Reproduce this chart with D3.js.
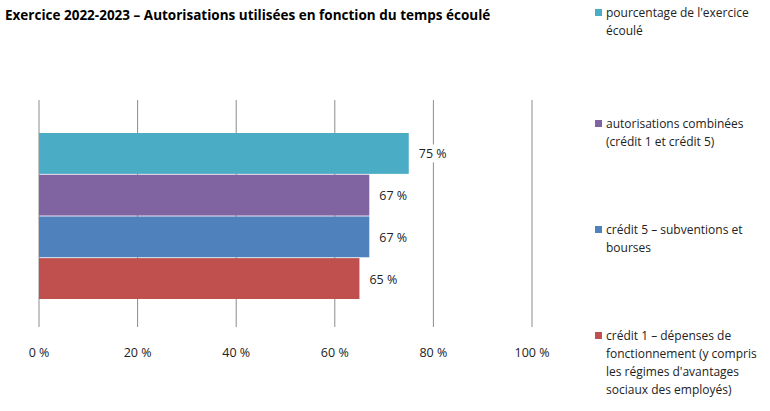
<!DOCTYPE html>
<html><head><meta charset="utf-8">
<script src="https://cdn.jsdelivr.net/npm/d3@7"></script>
<style>body{margin:0;background:#fff}text{font-family:"Open Sans","Liberation Sans",sans-serif}</style>
</head><body><svg id="c" width="770" height="411"></svg>
<script>
const series = ["pourcentage de l'exercice écoulé", "autorisations combinées (crédit 1 et crédit 5)", "crédit 5 – subventions et bourses", "crédit 1 – dépenses de fonctionnement (y compris les régimes d'avantages sociaux des employés)"];
const values = [75, 67, 67, 65];
const colors = ["#4bacc6", "#8064a2", "#4f81bd", "#c0504d"];
const ticks = [0, 20, 40, 60, 80, 100];
const legendLines = [["pourcentage de l'exercice", "écoulé"], ["autorisations combinées", "(crédit 1 et crédit 5)"], ["crédit 5 – subventions et", "bourses"], ["crédit 1 – dépenses de", "fonctionnement (y compris", "les régimes d'avantages", "sociaux des employés)"]];
const legendY = [15, 126, 232, 338];

const svg = d3.select("#c");
const x = d3.scaleLinear().domain([0, 100]).range([39, 532]);
const y = d3.scaleBand().domain(series).range([133, 299]).paddingInner(0.02);

svg.append("text").attr("x", 5).attr("y", 20).attr("font-size", 13.5).attr("font-weight", "bold")
  .text("Exercice 2022-2023 – Autorisations utilisées en fonction du temps écoulé");

svg.selectAll(".grid").data(ticks).join("line")
  .attr("x1", d => x(d)).attr("x2", d => x(d)).attr("y1", 100).attr("y2", 327)
  .attr("stroke", "#8c8c8c").attr("stroke-width", 1);

svg.selectAll(".tl").data(ticks).join("text")
  .attr("x", d => x(d)).attr("y", 357).attr("text-anchor", "middle").attr("font-size", 12.5).attr("fill", "#222")
  .text(d => d + " %");

svg.selectAll(".bar").data(values).join("rect")
  .attr("x", x(0)).attr("y", (d, i) => y(series[i])).attr("width", d => x(d) - x(0))
  .attr("height", y.bandwidth()).attr("fill", (d, i) => colors[i]);

svg.selectAll(".vb").data(values).join("rect")
  .attr("x", d => x(d) + 6).attr("y", (d, i) => y(series[i]) + y.bandwidth() / 2 - 9)
  .attr("width", 40).attr("height", 18).attr("fill", "#fff");

svg.selectAll(".vl").data(values).join("text")
  .attr("x", d => x(d) + 10).attr("y", (d, i) => y(series[i]) + y.bandwidth() / 2 + 5)
  .attr("font-size", 12.5).attr("fill", "#222").text(d => d + " %");

const lg = svg.selectAll(".lg").data(legendLines).join("g").attr("transform", (d, i) => `translate(595,${legendY[i]})`);
lg.append("rect").attr("x", 0).attr("y", -6).attr("width", 7).attr("height", 7).attr("fill", (d, i) => colors[i]);
lg.each(function (d) {
  d3.select(this).selectAll("text").data(d).join("text")
    .attr("x", 11).attr("y", (t, j) => j * 18 + 2).attr("font-size", 12).attr("fill", "#222").text(t => t);
});
</script></body></html>
